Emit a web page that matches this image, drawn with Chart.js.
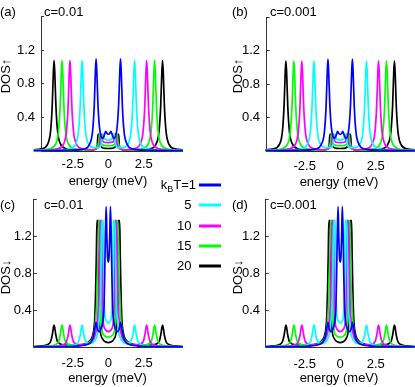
<!DOCTYPE html>
<html><head><meta charset="utf-8">
<script src="https://cdn.jsdelivr.net/npm/chart.js@4.4.1/dist/chart.umd.min.js"></script>
<style>
html,body{margin:0;padding:0;background:#fff;}
#wrap{position:relative;width:415px;height:387px;overflow:hidden;font-family:"Liberation Sans",Arial,Helvetica,sans-serif;color:#000;}
canvas{position:absolute;left:0;top:0;}
.t{position:absolute;font-size:13px;line-height:16px;white-space:nowrap;}
.c{transform:translate(-50%,-50%);}
.r{transform:translate(-50%,-50%) rotate(-90deg);}
.rt{transform:translate(-100%,-50%);}
.lg{position:absolute;height:3px;width:22px;transform:translateY(-50%);}
sub{font-size:9px;vertical-align:-3px;line-height:0;}
</style></head>
<body><div id="wrap">
<canvas id="ca" width="415" height="387"></canvas>
<canvas id="cb" width="415" height="387"></canvas>
<canvas id="cc" width="415" height="387"></canvas>
<canvas id="cd" width="415" height="387"></canvas>
</div>
<script>
// ---- data (energy in meV, DOS) ----
const energyTicks = [-2.5, 0, 2.5];
const dosTickLabels = [0.4, 0.8, 1.2];
const tempLabels = ['1', '5', '10', '15', '20'];
const panelLetters = ['(a)', '(b)', '(c)', '(d)'];
const concentrations = ['c=0.01', 'c=0.001', 'c=0.01', 'c=0.001'];

// spin-up DOS (panels a, b)
const up_T1 = [[-5.25,0.004],[-3.5,0.008],[-2.5,0.012],[-1.76,0.022],[-1.31,0.085],[-1.11,0.23],[-0.99,0.54],[-0.91,0.95],[-0.86,1.1],[-0.81,0.95],[-0.73,0.56],[-0.62,0.28],[-0.5,0.17],[-0.4,0.15],[-0.3,0.18],[-0.18,0.235],[-0.1,0.21],[0,0.2],[0.1,0.21],[0.18,0.235],[0.3,0.18],[0.4,0.15],[0.5,0.17],[0.62,0.28],[0.73,0.56],[0.81,0.95],[0.86,1.1],[0.91,0.95],[0.99,0.54],[1.11,0.23],[1.31,0.085],[1.76,0.022],[2.5,0.012],[3.5,0.008],[5.25,0.004]];
const up_T5 = [[-5.25,0.005],[-3.5,0.012],[-2.75,0.025],[-2.3,0.083],[-2.1,0.23],[-1.98,0.54],[-1.9,0.94],[-1.85,1.08],[-1.8,0.94],[-1.72,0.54],[-1.6,0.23],[-1.4,0.085],[-1.0,0.04],[-0.7,0.04],[-0.5,0.08],[-0.43,0.2],[-0.32,0.2],[-0.28,0.15],[-0.15,0.135],[0,0.13],[0.15,0.135],[0.28,0.15],[0.32,0.2],[0.43,0.2],[0.5,0.08],[0.7,0.04],[1.0,0.04],[1.4,0.085],[1.6,0.23],[1.72,0.54],[1.8,0.94],[1.85,1.08],[1.9,0.94],[1.98,0.54],[2.1,0.23],[2.3,0.083],[2.75,0.025],[3.5,0.012],[5.25,0.005]];
const up_T10 = [[-5.25,0.006],[-4.2,0.012],[-3.6,0.025],[-3.15,0.083],[-2.95,0.23],[-2.83,0.54],[-2.75,0.94],[-2.7,1.08],[-2.65,0.94],[-2.57,0.54],[-2.45,0.23],[-2.25,0.085],[-1.8,0.025],[-1.2,0.015],[-0.8,0.03],[-0.6,0.08],[-0.53,0.2],[-0.44,0.2],[-0.4,0.13],[-0.3,0.105],[0,0.1],[0.3,0.105],[0.4,0.13],[0.44,0.2],[0.53,0.2],[0.6,0.08],[0.8,0.03],[1.2,0.015],[1.8,0.025],[2.25,0.085],[2.45,0.23],[2.57,0.54],[2.65,0.94],[2.7,1.08],[2.75,0.94],[2.83,0.54],[2.95,0.23],[3.15,0.083],[3.6,0.025],[4.2,0.012],[5.25,0.006]];
const up_T15 = [[-5.25,0.01],[-4.5,0.015],[-4.16,0.025],[-3.71,0.083],[-3.51,0.23],[-3.39,0.54],[-3.31,0.94],[-3.26,1.08],[-3.21,0.94],[-3.13,0.54],[-3.01,0.23],[-2.81,0.085],[-2.36,0.025],[-1.6,0.01],[-1.0,0.015],[-0.8,0.04],[-0.67,0.12],[-0.63,0.2],[-0.54,0.2],[-0.5,0.1],[-0.4,0.075],[-0.2,0.065],[0,0.065],[0.2,0.065],[0.4,0.075],[0.5,0.1],[0.54,0.2],[0.63,0.2],[0.67,0.12],[0.8,0.04],[1.0,0.015],[1.6,0.01],[2.36,0.025],[2.81,0.085],[3.01,0.23],[3.13,0.54],[3.21,0.94],[3.26,1.08],[3.31,0.94],[3.39,0.54],[3.51,0.23],[3.71,0.083],[4.16,0.025],[4.5,0.015],[5.25,0.01]];
const up_T20 = [[-5.25,0.015],[-4.72,0.025],[-4.27,0.083],[-4.07,0.23],[-3.95,0.54],[-3.87,0.94],[-3.82,1.08],[-3.77,0.94],[-3.69,0.54],[-3.57,0.23],[-3.37,0.085],[-2.92,0.025],[-2.0,0.008],[-1.2,0.008],[-0.9,0.02],[-0.78,0.06],[-0.73,0.2],[-0.65,0.2],[-0.61,0.1],[-0.5,0.05],[-0.25,0.032],[0,0.03],[0.25,0.032],[0.5,0.05],[0.61,0.1],[0.65,0.2],[0.73,0.2],[0.78,0.06],[0.9,0.02],[1.2,0.008],[2.0,0.008],[2.92,0.025],[3.37,0.085],[3.57,0.23],[3.69,0.54],[3.77,0.94],[3.82,1.08],[3.87,0.94],[3.95,0.54],[4.07,0.23],[4.27,0.083],[4.72,0.025],[5.25,0.015]];

// spin-down DOS (panels c, d)
const down_T1 = [[-5.25,0.004],[-3,0.008],[-2,0.015],[-1.5,0.03],[-1.2,0.06],[-1.05,0.12],[-0.95,0.2],[-0.86,0.27],[-0.77,0.2],[-0.65,0.17],[-0.5,0.2],[-0.38,0.28],[-0.3,0.45],[-0.25,0.8],[-0.2,1.25],[-0.15,1.52],[-0.1,1.2],[-0.05,0.97],[0,0.92],[0.05,0.97],[0.1,1.2],[0.15,1.52],[0.2,1.25],[0.25,0.8],[0.3,0.45],[0.38,0.28],[0.5,0.2],[0.65,0.17],[0.77,0.2],[0.86,0.27],[0.95,0.2],[1.05,0.12],[1.2,0.06],[1.5,0.03],[2,0.015],[3,0.008],[5.25,0.004]];
const down_T5 = [[-5.25,0.004],[-3.5,0.008],[-2.75,0.012],[-2.3,0.03],[-2.1,0.06],[-1.98,0.13],[-1.9,0.21],[-1.85,0.24],[-1.8,0.21],[-1.72,0.13],[-1.6,0.07],[-1.4,0.04],[-1.1,0.05],[-0.85,0.1],[-0.7,0.2],[-0.6,0.4],[-0.53,0.75],[-0.49,1.1],[-0.46,1.37],[-0.35,1.37],[-0.32,0.95],[-0.29,0.55],[-0.24,0.35],[-0.12,0.28],[0,0.26],[0.12,0.28],[0.24,0.35],[0.29,0.55],[0.32,0.95],[0.35,1.37],[0.46,1.37],[0.49,1.1],[0.53,0.75],[0.6,0.4],[0.7,0.2],[0.85,0.1],[1.1,0.05],[1.4,0.04],[1.6,0.07],[1.72,0.13],[1.8,0.21],[1.85,0.24],[1.9,0.21],[1.98,0.13],[2.1,0.06],[2.3,0.03],[2.75,0.012],[3.5,0.008],[5.25,0.004]];
const down_T10 = [[-5.25,0.004],[-4,0.01],[-3.6,0.015],[-3.15,0.03],[-2.95,0.06],[-2.83,0.13],[-2.75,0.21],[-2.7,0.24],[-2.65,0.21],[-2.57,0.13],[-2.45,0.06],[-2.1,0.03],[-1.6,0.03],[-1.2,0.06],[-0.95,0.12],[-0.8,0.24],[-0.7,0.45],[-0.64,0.8],[-0.6,1.15],[-0.57,1.37],[-0.47,1.37],[-0.44,0.9],[-0.41,0.45],[-0.35,0.27],[-0.2,0.19],[0,0.17],[0.2,0.19],[0.35,0.27],[0.41,0.45],[0.44,0.9],[0.47,1.37],[0.57,1.37],[0.6,1.15],[0.64,0.8],[0.7,0.45],[0.8,0.24],[0.95,0.12],[1.2,0.06],[1.6,0.03],[2.1,0.03],[2.45,0.06],[2.57,0.13],[2.65,0.21],[2.7,0.24],[2.75,0.21],[2.83,0.13],[2.95,0.06],[3.15,0.03],[3.6,0.015],[4,0.01],[5.25,0.004]];
const down_T15 = [[-5.25,0.005],[-4.15,0.015],[-3.7,0.03],[-3.51,0.06],[-3.39,0.13],[-3.31,0.21],[-3.26,0.24],[-3.21,0.21],[-3.13,0.13],[-3.01,0.06],[-2.6,0.025],[-2.0,0.025],[-1.4,0.05],[-1.1,0.1],[-0.95,0.2],[-0.84,0.4],[-0.76,0.75],[-0.71,1.1],[-0.68,1.37],[-0.58,1.37],[-0.55,0.9],[-0.52,0.4],[-0.45,0.2],[-0.3,0.13],[0,0.11],[0.3,0.13],[0.45,0.2],[0.52,0.4],[0.55,0.9],[0.58,1.37],[0.68,1.37],[0.71,1.1],[0.76,0.75],[0.84,0.4],[0.95,0.2],[1.1,0.1],[1.4,0.05],[2.0,0.025],[2.6,0.025],[3.01,0.06],[3.13,0.13],[3.21,0.21],[3.26,0.24],[3.31,0.21],[3.39,0.13],[3.51,0.06],[3.7,0.03],[4.15,0.015],[5.25,0.005]];
const down_T20 = [[-5.25,0.008],[-4.72,0.015],[-4.27,0.03],[-4.07,0.06],[-3.95,0.13],[-3.87,0.21],[-3.82,0.24],[-3.77,0.21],[-3.69,0.13],[-3.57,0.06],[-3.1,0.025],[-2.4,0.02],[-1.6,0.04],[-1.25,0.08],[-1.05,0.16],[-0.95,0.32],[-0.89,0.62],[-0.84,1.0],[-0.8,1.37],[-0.7,1.37],[-0.67,0.9],[-0.64,0.4],[-0.58,0.2],[-0.4,0.09],[-0.2,0.06],[0,0.05],[0.2,0.06],[0.4,0.09],[0.58,0.2],[0.64,0.4],[0.67,0.9],[0.7,1.37],[0.8,1.37],[0.84,1.0],[0.89,0.62],[0.95,0.32],[1.05,0.16],[1.25,0.08],[1.6,0.04],[2.4,0.02],[3.1,0.025],[3.57,0.06],[3.69,0.13],[3.77,0.21],[3.82,0.24],[3.87,0.21],[3.95,0.13],[4.07,0.06],[4.27,0.03],[4.72,0.015],[5.25,0.008]];

const upSeries = [up_T1, up_T5, up_T10, up_T15, up_T20];
const downSeries = [down_T1, down_T5, down_T10, down_T15, down_T20];

// ---- styling / layout ----
const seriesColors = ['#0000ff', '#00ffff', '#ff00ff', '#00ff00', '#000000'];
const FONT = '"Liberation Sans", Arial, Helvetica, sans-serif';
const AXIS = '#333333';
const panels = [
  {id:'ca', series:upSeries,   xmin:-4.74, pad:{left:11,    right:232.15, top:3,     bottom:206}, yPad:9,   xPad:5.5},
  {id:'cb', series:upSeries,   xmin:-5.18, pad:{left:236.6, right:0.25,   top:3,     bottom:206}, yPad:9.6, xPad:7.5},
  {id:'cc', series:downSeries, xmin:-5.25, pad:{left:3.75,  right:232.15, top:199.3, bottom:9.7}, yPad:5,   xPad:8},
  {id:'cd', series:downSeries, xmin:-5.25, pad:{left:235.65,right:0.25,   top:199.3, bottom:9.7}, yPad:8.6, xPad:9}
];

function makeChart(p) {
  return new Chart(document.getElementById(p.id), {
    type: 'line',
    data: {
      datasets: p.series.map((d, i) => ({
        label: 'kBT=' + tempLabels[i], data: d,
        borderColor: seriesColors[i], borderWidth: 1.7,
        pointRadius: 0, fill: false, cubicInterpolationMode: 'monotone', clip: false
      }))
    },
    options: {
      responsive: false, animation: false, devicePixelRatio: 1, events: [],
      layout: {padding: p.pad},
      plugins: {legend: {display: false}, tooltip: {enabled: false}, title: {display: false}},
      scales: {
        x: {
          type: 'linear', min: p.xmin, max: 5.25,
          afterFit: s => { s.height = 30; },
          afterBuildTicks: s => { s.ticks = energyTicks.map(v => ({value: v})); },
          grid: {display: true, drawOnChartArea: false, drawTicks: false},
          border: {display: true, color: AXIS, width: 1},
          ticks: {padding: p.xPad, color: '#000', font: {family: FONT, size: 13}, maxRotation: 0, autoSkip: false,
                  callback: v => String(v)}
        },
        y: {
          type: 'linear', min: 0, max: 1.6,
          afterFit: s => { s.width = 30; },
          grid: {display: true, drawOnChartArea: false, drawTicks: true, tickLength: -3, color: AXIS, lineWidth: 1},
          border: {display: true, color: AXIS, width: 1},
          ticks: {stepSize: 0.2, padding: p.yPad, color: '#000', font: {family: FONT, size: 13},
                  callback: v => dosTickLabels.some(t => Math.abs(t - v) < 1e-6) ? v.toFixed(1) : ''}
        }
      }
    }
  });
}
panels.forEach(makeChart);

// ---- text labels (real text) ----
const wrap = document.getElementById('wrap');
function addText(html, x, y, cls) {
  const d = document.createElement('div');
  d.className = 't ' + cls; d.innerHTML = html;
  d.style.left = x + 'px'; d.style.top = y + 'px';
  wrap.appendChild(d); return d;
}
const letterPos = [[0, 12], [232, 12], [0, 205], [232, 205]];
const concPos = [[44, 12], [270, 12], [44, 205], [270, 205]];
panelLetters.forEach((s, i) => addText(s, letterPos[i][0], letterPos[i][1] - 8, ''));
concentrations.forEach((s, i) => addText(s, concPos[i][0], concPos[i][1] - 8, ''));
const xTitlePos = [[108, 181], [339, 181.5], [107.5, 378], [339, 378]];
xTitlePos.forEach(p => addText('energy (meV)', p[0], p[1], 'c'));
const yTitles = ['DOS↑', 'DOS↑', 'DOS↓', 'DOS↓'];
const yTitlePos = [[6, 76], [238, 76], [6, 277], [238, 277]];
yTitles.forEach((s, i) => addText(s, yTitlePos[i][0], yTitlePos[i][1], 'r'));

// legend
const legendRows = [185, 205.3, 225.5, 245.7, 265.8];
tempLabels.forEach((t, i) => {
  const txt = i === 0 ? 'k<sub>B</sub>T=' + t : t;
  addText(txt, i === 0 ? 196 : 191.5, legendRows[i], 'rt');
  const l = document.createElement('div');
  l.className = 'lg'; l.style.left = '199px'; l.style.top = legendRows[i] + 'px';
  l.style.background = seriesColors[i];
  wrap.appendChild(l);
});
</script>
</body></html>
